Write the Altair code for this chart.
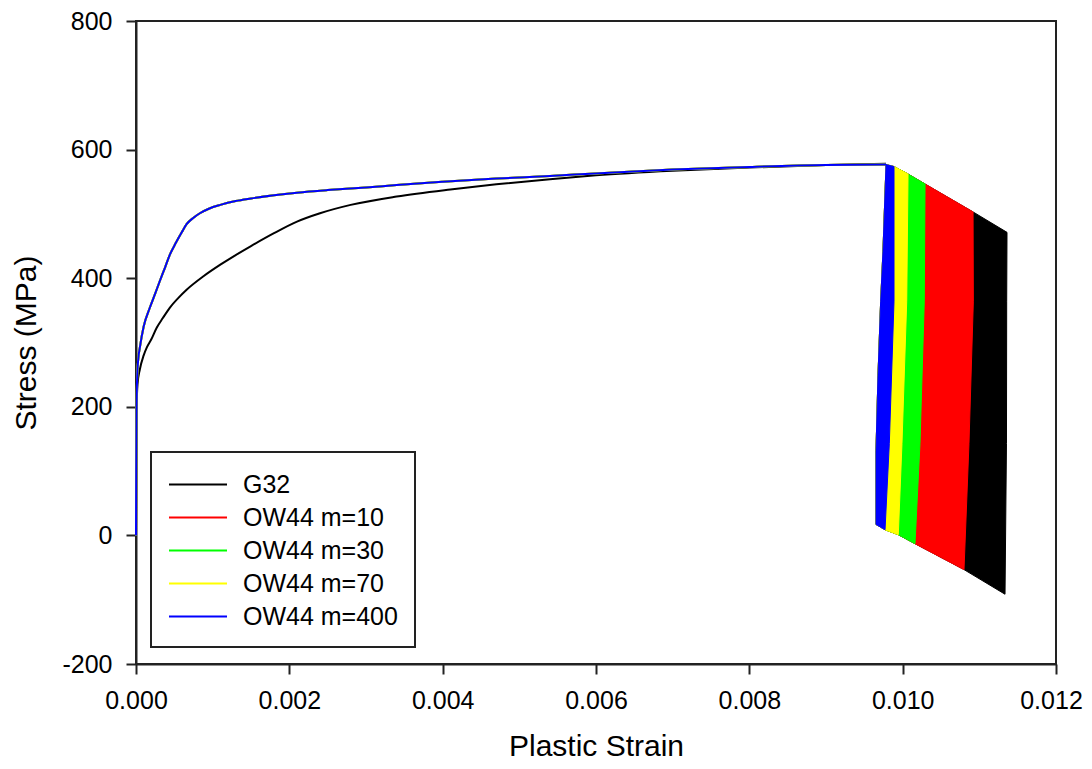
import altair as alt
import pandas as pd

FONT = "Liberation Sans"

series = ["G32", "OW44 m=10", "OW44 m=30", "OW44 m=70", "OW44 m=400"]
colors = ["#000000", "#ff0000", "#00ff00", "#ffff00", "#0000ff"]

# hardening curves (plastic strain, stress MPa)
g32_strain = [0.0, 0.000003, 0.000008, 0.00002, 0.00005, 0.0001, 0.00014, 0.0002,
              0.00027, 0.00035, 0.00044, 0.00055, 0.00066, 0.00088, 0.0011, 0.0013,
              0.0015, 0.0018, 0.0021, 0.0024, 0.0028, 0.0034, 0.0041, 0.0047,
              0.0054, 0.006, 0.007, 0.008, 0.009, 0.009783]
g32_stress = [0, 120, 200, 235, 258, 280, 292, 305,
              323, 338, 354, 369, 382, 403, 421, 436,
              450, 470, 488, 501, 514, 527, 538, 546,
              554, 560, 567, 572, 576, 578]

ow44_strain = [0.0, 0.000003, 0.000008, 0.000015, 0.00003, 0.00005, 0.0001, 0.00018,
               0.00025, 0.000312, 0.00038, 0.000443, 0.00052, 0.000595, 0.00066,
               0.00075, 0.000833, 0.00095, 0.0011, 0.0013, 0.0015, 0.0018, 0.0021,
               0.0025, 0.003, 0.0034, 0.004, 0.0047, 0.0054, 0.006, 0.007, 0.008,
               0.009, 0.009783]
ow44_stress = [0, 100, 200, 245, 275, 292, 325, 354,
               376, 396, 417, 437, 455, 471, 484,
               494, 501, 508, 514, 520, 524, 529, 533,
               537, 541, 545, 550, 555, 559, 563, 569, 573,
               576, 576.7]

# softening / cyclic region outlines
top_strain = [0.009783, 0.009887, 0.010070, 0.010292, 0.010918, 0.011361]
top_stress = [576.7, 573.6, 562.0, 546.5, 503.1, 471.3]
bot_strain = [0.009652, 0.009770, 0.009943, 0.010161, 0.010800, 0.011335]
bot_stress = [17.1, 8.8, 1.1, -12.9, -53.2, -91.5]
left_strain = [0.009783, 0.009743, 0.009713, 0.009678, 0.009652, 0.009652]
left_stress = [576.7, 441.9, 364.3, 248.1, 131.8, 17.1]
right_mid_stress = [364.3, 143.0]
right_mid_strain = {
    "OW44 m=400": [0.009887, 0.009826],
    "OW44 m=70": [0.010053, 0.009991],
    "OW44 m=30": [0.010282, 0.010226],
    "OW44 m=10": [0.010922, 0.010865],
    "G32": [0.011357, 0.011354],
}
band_end = {"OW44 m=400": 1, "OW44 m=70": 2, "OW44 m=30": 3, "OW44 m=10": 4, "G32": 5}

x_ticks = [0.0, 0.002, 0.004, 0.006, 0.008, 0.010, 0.012]
y_ticks = [-200, 0, 200, 400, 600, 800]

xs = alt.Scale(domain=[0, 0.012], nice=False, zero=False)
ys = alt.Scale(domain=[-200, 800], nice=False, zero=False)
cscale = alt.Scale(domain=series, range=colors)

X = alt.X("strain:Q", scale=xs,
          axis=alt.Axis(values=x_ticks, format=".3f", title="Plastic Strain",
                        labelFlush=False,
                        labelOffset={"condition": {"test": "datum.value >= 0.0119",
                                                   "value": -5}, "value": 0}))
Y = alt.Y("stress:Q", scale=ys,
          axis=alt.Axis(values=y_ticks, labelExpr="toString(datum.value)",
                        title="Stress (MPa)", labelFlush=False))

legend = alt.Legend(title=None, orient="none", legendX=15, legendY=431,
                    padding=17, strokeColor="#222", fillColor="white",
                    symbolType="M-1,0H3", symbolSize=841, symbolStrokeWidth=2,
                    labelFontSize=25, labelFont=FONT, labelOffset=44,
                    labelColor="black", rowPadding=4)

layers = []
for s, c in zip(series, colors):
    if s == "G32":
        cs, cv = g32_strain, g32_stress
    else:
        cs, cv = ow44_strain, ow44_stress
    cdf = pd.DataFrame({"strain": cs, "stress": cv, "series": s,
                        "i": list(range(len(cs)))})
    layers.append(
        alt.Chart(cdf).mark_line(strokeWidth=2, interpolate="monotone").encode(
            x=X, y=Y, order="i:Q",
            color=alt.Color("series:N", scale=cscale, legend=legend))
    )
    k = band_end[s]
    px = top_strain[:k + 1] + right_mid_strain[s] + bot_strain[:k + 1][::-1] + left_strain[::-1]
    py = top_stress[:k + 1] + right_mid_stress + bot_stress[:k + 1][::-1] + left_stress[::-1]
    pdf = pd.DataFrame({"strain": px, "stress": py, "i": list(range(len(px)))})
    layers.append(
        alt.Chart(pdf).mark_line(fill=c, stroke=c, strokeWidth=1).encode(
            x=X, y=Y, order="i:Q")
    )

chart = alt.layer(*layers).properties(
    width=920, height=643,
    autosize=alt.AutoSizeParams(type="none"),
    padding={"left": 128, "top": 13, "right": 28, "bottom": 97},
).configure_view(stroke="#222", strokeWidth=2).configure_axis(
    grid=False, domainColor="#222", domainWidth=2, tickColor="#222", tickWidth=2,
    tickSize=10, labelPadding=14, labelFont=FONT, labelFontSize=25,
    labelColor="black", titleFont=FONT, titleFontSize=30, titleFontWeight="normal",
    titleColor="black"
).configure_axisX(titlePadding=18).configure_axisY(titlePadding=20).configure_legend(
    strokeWidth=2
)

chart.save("out.html", embed_options={"renderer": "svg", "actions": False})
